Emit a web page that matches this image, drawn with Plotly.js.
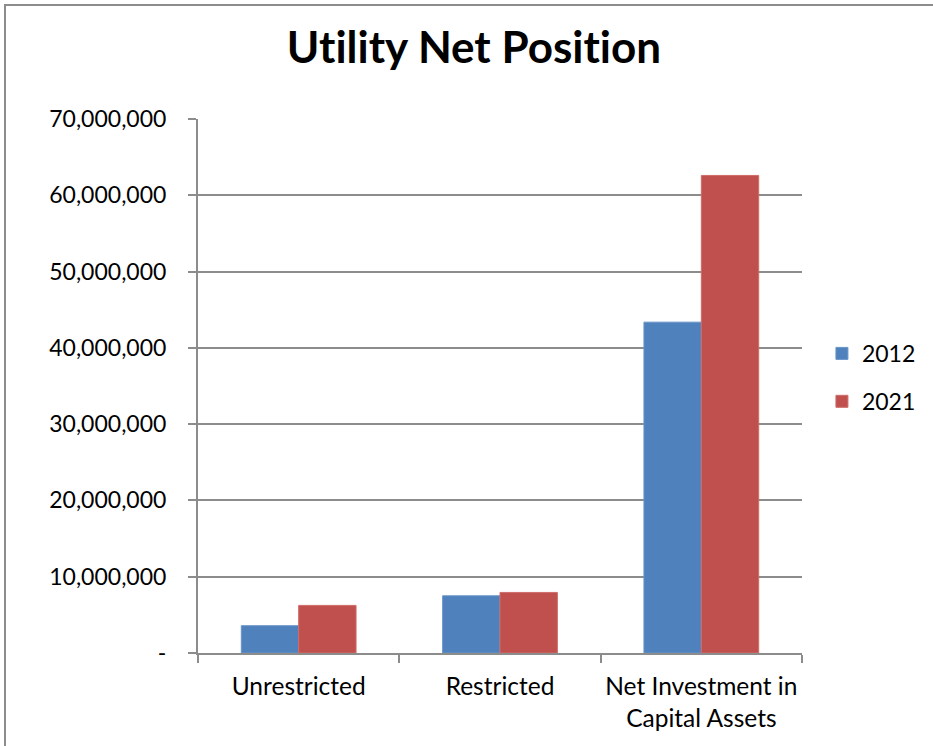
<!DOCTYPE html>
<html>
<head>
<meta charset="utf-8">
<script src="https://cdn.plot.ly/plotly-3.0.1.min.js"></script>
<style>
  html, body { margin: 0; padding: 0; background: #fff; overflow: hidden; }
  #wrap { position: relative; width: 933px; height: 746px; overflow: hidden; }
  #chart { width: 933px; height: 746px; }
  #frame { position: absolute; left: 4px; top: 4px; right: 0; bottom: 0;
           border-left: 2px solid #8c8c8c; border-top: 2px solid #8c8c8c; pointer-events: none; }
  text { font-variant-ligatures: none !important; font-feature-settings: "liga" 0, "clig" 0 !important; }
</style>
</head>
<body>
<div id="wrap">
  <div id="chart"></div>
  <div id="frame"></div>
</div>
<script>
const categories = ["Unrestricted", "Restricted", "Net Investment in<br>Capital Assets"];
const seriesNames = ["2012", "2021"];
const values2012 = [3580000, 7500000, 43370000];
const values2021 = [6240000, 7940000, 62600000];
const yTickVals = [0, 10000000, 20000000, 30000000, 40000000, 50000000, 60000000, 70000000];
const yTickText = ["-", "10,000,000", "20,000,000", "30,000,000", "40,000,000", "50,000,000", "60,000,000", "70,000,000"];

const FONT = "Lato, 'Open Sans', sans-serif";

const traces = [
  { type: "bar", name: seriesNames[0], x: categories, y: values2012, legendgroup: "a",
    marker: { color: "#4F81BD", line: { color: "#6a95c9", width: 1 } }, hoverinfo: "y" },
  { type: "bar", name: seriesNames[1], x: categories, y: values2021, legendgroup: "b",
    marker: { color: "#C0504D", line: { color: "#cf6c69", width: 1 } }, hoverinfo: "y" }
];

const layout = {
  width: 933, height: 746,
  margin: { l: 198, r: 131, t: 119, b: 93, autoexpand: false },
  paper_bgcolor: "#fff", plot_bgcolor: "#fff",
  font: { family: FONT, size: 23, color: "#000" },
  title: { text: "<b>Utility Net Position</b>", font: { family: FONT, size: 44, color: "#000" },
           x: 0.508, xanchor: "center", y: 0.936, yanchor: "middle", yref: "container" },
  barmode: "group", bargap: 0.43, bargroupgap: 0,
  xaxis: { type: "category", showline: true, linecolor: "#8c8c8c", linewidth: 2,
           ticks: "outside", tickson: "boundaries", ticklen: 8, tickcolor: "#8c8c8c", tickwidth: 2,
           tickangle: 0, automargin: false,
           showgrid: false, ticklabelstandoff: 11, tickfont: { family: FONT, size: 24.5, color: "#000" } },
  yaxis: { range: [0, 70000000], tickvals: yTickVals, ticktext: yTickText,
           showline: true, linecolor: "#8c8c8c", linewidth: 2,
           ticks: "outside", ticklen: 8, tickcolor: "#8c8c8c", tickwidth: 2,
           showgrid: true, gridcolor: "#8c8c8c", gridwidth: 2, zeroline: false,
           ticklabelstandoff: 17, tickfont: { family: FONT, size: 23, color: "#000" } },
  legend: { x: 1.033, xanchor: "left", y: 0.516, yanchor: "middle",
            traceorder: "grouped", tracegroupgap: 15,
            font: { family: FONT, size: 23, color: "#000" }, bgcolor: "rgba(0,0,0,0)" },
  showlegend: true
};

Plotly.newPlot("chart", traces, layout, { displayModeBar: false, staticPlot: true });
</script>
</body>
</html>
